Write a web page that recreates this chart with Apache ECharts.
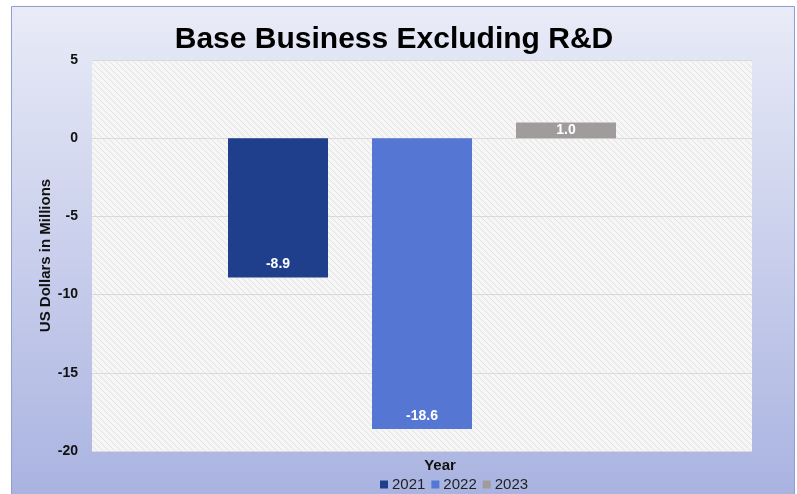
<!DOCTYPE html>
<html><head><meta charset="utf-8">
<script src="https://cdn.jsdelivr.net/npm/echarts@6/dist/echarts.min.js"></script>
<style>html,body{margin:0;padding:0;background:#fff}#c{width:797px;height:494px}</style>
</head><body><div id="c"></div>
<script>
const categories = ['Year'];
const seriesNames = ['2021', '2022', '2023'];
const values2021 = [-8.9];
const values2022 = [-18.6];
const values2023 = [1.0];
const seriesColors = ['#1f3f8c', '#5577d3', '#a09c9c'];

function makePattern() {
  const c = document.createElement('canvas');
  c.width = 6; c.height = 6;
  const g = c.getContext('2d');
  g.fillStyle = '#f6f6f6'; g.fillRect(0, 0, 6, 6);
  g.strokeStyle = '#e2e2e2'; g.lineWidth = 1;
  g.beginPath();
  g.moveTo(0, 0); g.lineTo(6, 6);
  g.moveTo(-3, 3); g.lineTo(3, 9);
  g.moveTo(3, -3); g.lineTo(9, 3);
  g.stroke();
  return c;
}

const chart = echarts.init(document.getElementById('c'));
const allValues = [values2021, values2022, values2023];
chart.setOption({
  animation: false,
  textStyle: { fontFamily: 'Liberation Sans, Arial, sans-serif' },
  graphic: [{
    type: 'rect', z: -10, silent: true,
    shape: { x: 11.5, y: 6.5, width: 783, height: 500 },
    style: {
      fill: new echarts.graphic.LinearGradient(0, 0, 0, 1, [
        { offset: 0, color: '#e9ebf7' },
        { offset: 1, color: '#a8b2e0' }
      ]),
      stroke: '#8f9fd2', lineWidth: 1
    }
  }],
  title: {
    text: 'Base Business Excluding R&D', left: 389, textAlign: 'center', top: 20,
    textStyle: { fontSize: 30, fontWeight: 'bold', color: '#000', fontFamily: 'Liberation Sans, Arial, sans-serif' }
  },
  legend: {
    top: 472, left: 375,
    itemWidth: 8, itemHeight: 8, itemGap: 6,
    icon: 'rect',
    textStyle: { fontSize: 15, color: '#222', padding: [0, 0, 0, -1] },
    data: seriesNames
  },
  grid: {
    left: 92, right: 45, top: 60, bottom: 43,
    show: true, borderWidth: 0,
    backgroundColor: { image: makePattern(), repeat: 'repeat' }
  },
  xAxis: {
    type: 'category', data: categories,
    axisLine: { show: false }, axisTick: { show: false }, axisLabel: { show: false },
    name: 'Year', nameLocation: 'middle', nameGap: 7, nameMoveOverlap: false,
    nameTextStyle: { fontSize: 15, fontWeight: 'bold', color: '#111', padding: [0, 0, 0, 36] }
  },
  yAxis: {
    type: 'value', min: -20, max: 5, interval: 5,
    axisLine: { show: false }, axisTick: { show: false },
    axisLabel: { fontSize: 14, fontWeight: 'bold', color: '#111', margin: 14 },
    splitLine: { lineStyle: { color: '#d9d9d9', width: 1 } },
    name: 'US Dollars in Millions', nameLocation: 'middle', nameGap: 39, nameRotate: 90,
    nameMoveOverlap: false,
    nameTextStyle: { fontSize: 15, fontWeight: 'bold', color: '#111' }
  },
  series: seriesNames.map((n, i) => ({
    name: n, type: 'bar', data: allValues[i],
    barWidth: 100, barGap: '44%',
    itemStyle: { color: seriesColors[i] },
    label: {
      show: true,
      position: allValues[i][0] < 0 ? 'insideBottom' : 'inside',
      distance: 6,
      formatter: p => p.value.toFixed(1),
      color: '#fff', fontSize: 14, fontWeight: 'bold'
    }
  }))
});
</script></body></html>
